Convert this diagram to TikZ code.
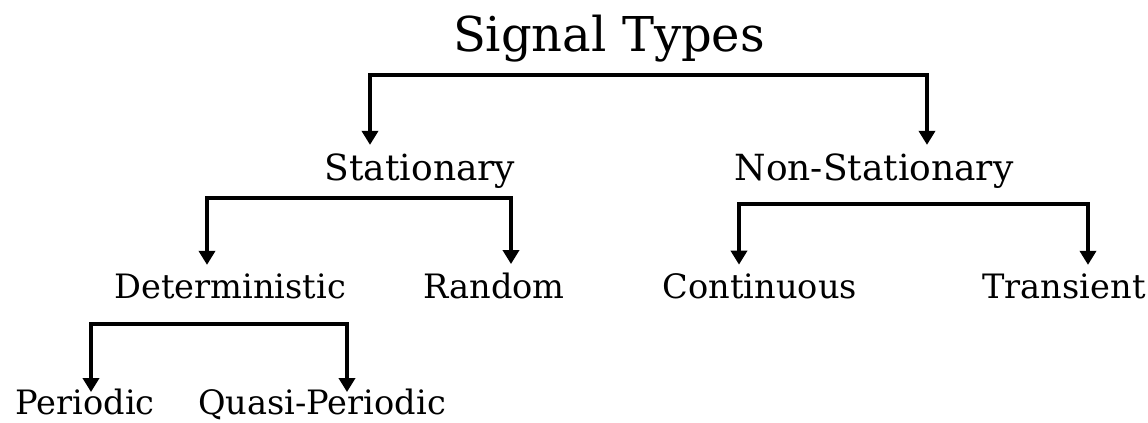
\documentclass[tikz,border=0pt]{standalone}
\usepackage{fontspec}
\setmainfont{DejaVu Serif}
\usepackage{tikz}
\usetikzlibrary{arrows.meta}

\begin{document}
\begin{tikzpicture}[x=0.5pt, y=-0.5pt,
      block_title/.style ={rectangle, draw=none, fill=none, anchor=base,
        inner sep=3pt, font=\fontsize{24}{28}\selectfont},
      block_noborder/.style ={rectangle, draw=none, fill=none, anchor=base,
        inner sep=4pt, font=\fontsize{18}{20}\selectfont},
      block_small/.style ={block_noborder, font=\fontsize{16.8}{19}\selectfont},
      block_low/.style ={block_small, inner sep=0pt},
      line/.style ={draw, line width=2.4pt, {Triangle[width=8pt,length=7pt]}-{Triangle[width=8pt,length=7pt]}}]
    \useasboundingbox (0,0) rectangle (1148,423);
    %
    % 1. the labels
    \node [block_title] (signal) at (609,52) {Signal Types};
    % level 1
    \node [block_noborder] (stat) at (420,180) {Stationary};
    \node [block_noborder] (nonstat) at (874,180) {Non-Stationary};
    % level 2
    \node [block_small] (determ) at (230,298) {Deterministic};
    \node [block_small] (random) at (494,298) {Random};
    \node [block_small] (contin) at (760,298) {Continuous};
    \node [block_small] (trans) at (1064,298) {Transient};
    % level 3
    \node [block_low] (period) at (85,414) {Periodic};
    \node [block_low] (quasi) at (322,414) {Quasi-Periodic};
    %
    % 2. bracket corners
    \coordinate (top_l) at (370,75);
    \coordinate (top_r) at (927,75);
    \coordinate (stat_l) at (207,198);
    \coordinate (stat_r) at (511,198);
    \coordinate (nonstat_l) at (739,204);
    \coordinate (nonstat_r) at (1088,204);
    \coordinate (determ_l) at (91,324);
    \coordinate (determ_r) at (347,324);
    %
    % 3. connecting nodes with paths
    \begin{scope}[every path/.style=line]
      \path (top_l |- stat.north) -- (top_l) -- (top_r) -- (top_r |- nonstat.north);
      \path (stat_l |- determ.north) -- (stat_l) -- (stat_r) -- (stat_r |- random.north);
      \path (nonstat_l |- contin.north) -- (nonstat_l) -- (nonstat_r) -- (nonstat_r |- trans.north);
      \path[shorten <=-2pt, shorten >=-2pt] (determ_l |- period.north) -- (determ_l) -- (determ_r) -- (determ_r |- quasi.north);
    \end{scope}
  \end{tikzpicture}
\end{document}
